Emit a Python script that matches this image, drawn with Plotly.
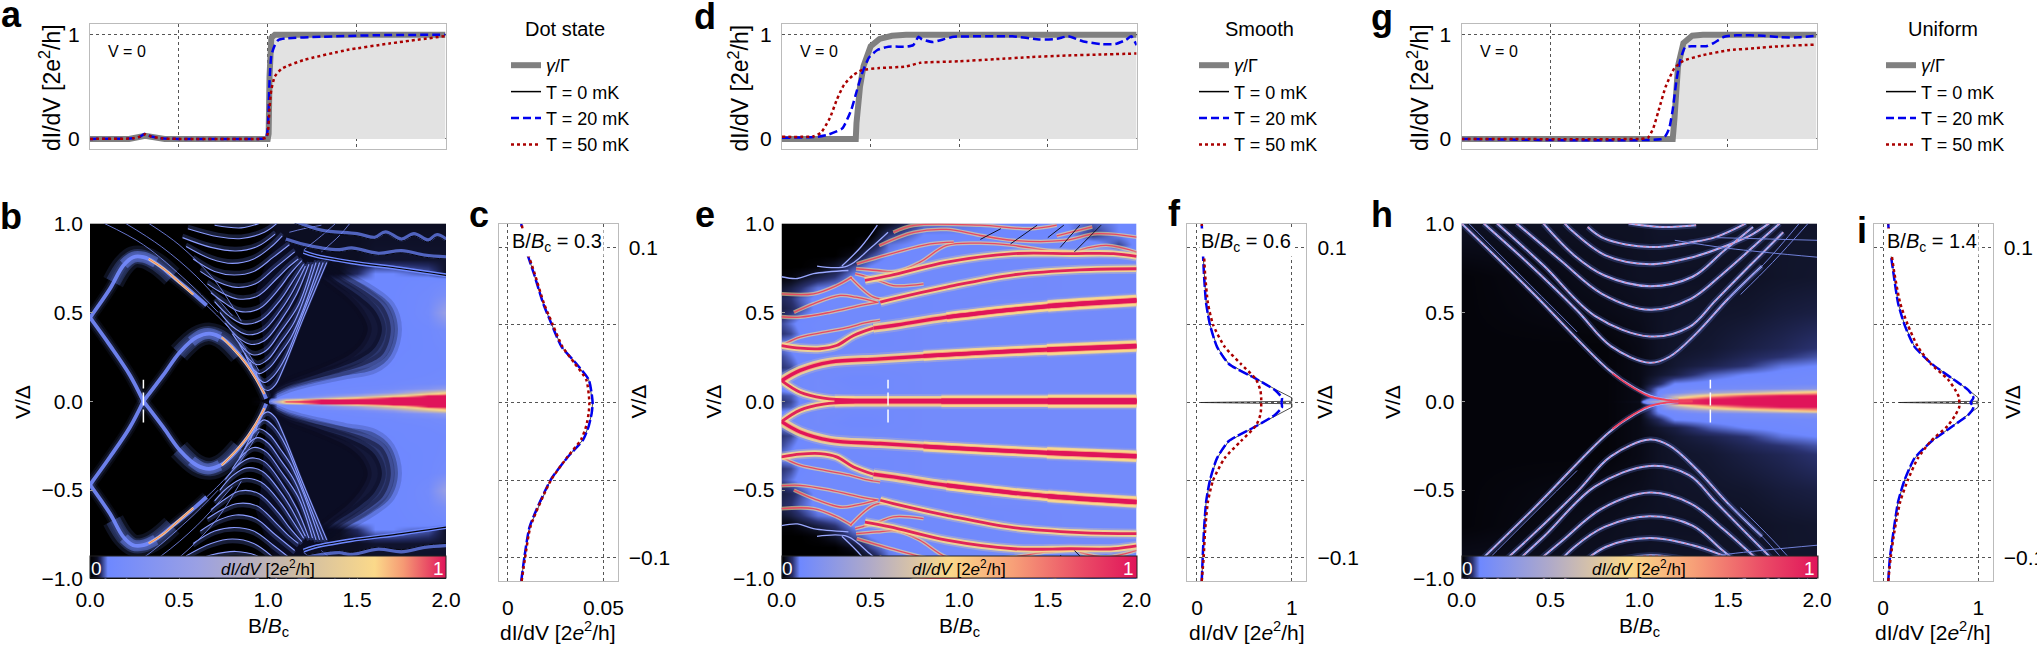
import plotly.graph_objects as go

W, H = 2037, 647

# --- top panels: V = 0 traces (B/Bc, dI/dV)
a_gamma_x = [0, .22, .31, .42, 1.0, 1.005, 1.01, 1.02, 1.04, 2.0]
a_gamma_y = [0, 0, .03, 0, 0, .05, .6, .97, 1.0, 1.0]
a_t20_x = [0, .24, .28, .31, .34, .4, .5, .95, .99, 1.0, 1.01, 1.02, 1.04, 1.06, 1.1, 1.3, 1.6, 2.0]
a_t20_y = [0, .005, .02, .05, .025, .005, 0, 0, .01, .1, .55, .8, .9, .95, .965, .98, .995, 1.0]
a_t50_x = [0, .24, .28, .31, .34, .4, .5, .95, .99, 1.0, 1.01, 1.02, 1.04, 1.08, 1.2, 1.445, 1.69, 2.0]
a_t50_y = [0, .005, .02, .045, .025, .005, 0, 0, .01, .05, .3, .47, .6, .676, .756, .853, .917, .987]

d_gamma_x = [0, .416, .42, .44, .46, .5, .55, .62, .7, 2.0]
d_gamma_y = [0, 0, .15, .5, .7, .89, .96, .99, 1.0, 1.0]
d_t20_x = [0, .2, .26, .34, .39, .42, .45, .49, .538, .6, .7, .74, .77, .79, .85, .92, .97, 1.2, 1.3, 1.45, 1.55, 1.614, 1.7, 1.8, 1.88, 1.94, 1.97, 2.0]
d_t20_y = [.01, .02, .04, .1, .276, .45, .62, .78, .853, .885, .885, .9, .98, .955, .93, .96, .98, .985, .985, .955, .96, .985, .935, .91, .91, .95, .985, .9]
d_t50_x = [0, .18, .22, .27, .31, .35, .4, .45, .55, .7, .78, 1.0, 1.2, 1.4, 1.6, 1.8, 2.0]
d_t50_y = [.02, .025, .06, .2, .38, .52, .61, .66, .68, .695, .73, .745, .765, .785, .8, .81, .82]

g_gamma_x = [0, 1.19, 1.2, 1.21, 1.22, 1.25, 1.3, 1.36, 2.0]
g_gamma_y = [0, 0, .2, .5, .7, .92, .99, 1.0, 1.0]
g_t20_x = [0, 1.13, 1.15, 1.17, 1.19, 1.21, 1.23, 1.26, 1.3, 1.38, 1.42, 1.48, 1.55, 1.7, 1.8, 1.9, 2.0]
g_t20_y = [0, 0, .03, .1, .28, .55, .74, .88, .89, .89, .92, .98, .995, .99, .975, .975, .99]
g_t50_x = [0, 1.0, 1.05, 1.08, 1.11, 1.15, 1.2, 1.25, 1.35, 1.5, 1.65, 1.8, 2.0]
g_t50_y = [0, 0, .01, .1, .27, .5, .68, .75, .8, .85, .87, .89, .905]

# --- line cuts: V/Delta against dI/dV
c_v = [-.115, -.1, -.08, -.05, -.035, -.024, -.015, -.007, 0, .0146, .0254, .036, .05, .064, .083, .1, .115]
c_t0 = [.007, .0086, .0114, .0223, .0314, .0393, .0423, .0438, .0443, .0423, .0355, .028, .023, .0184, .0136, .0091, .007]
c_t20 = [.007, .0086, .0114, .0223, .0314, .0393, .0423, .0438, .0443, .0423, .0355, .028, .023, .0184, .0136, .0091, .007]
c_t50 = [.0072, .009, .0118, .0225, .0312, .0382, .041, .0422, .0426, .041, .0348, .0285, .0235, .0188, .014, .0095, .0072]

cut_v = [-.115, -.1, -.083, -.064, -.05, -.036, -.025, -.015, -.008, -.003, 0, .003, .008, .015, .025, .036, .05, .064, .083, .1, .115]
f_t20 = [.05, .06, .073, .096, .137, .21, .333, .63, .82, .895, .89, .895, .82, .63, .333, .21, .137, .096, .073, .06, .05]
f_t50 = [.05, .07, .085, .115, .17, .29, .46, .62, .667, .676, .676, .676, .667, .62, .46, .29, .17, .115, .085, .07, .05]
f_t0_v = [-.115, -.1, -.083, -.064, -.05, -.036, -.025, -.015, -.008, -.003, -.0008, 0, .0008, .003, .008, .015, .025, .036, .05, .064, .083, .1, .115]
f_t0 = [.05, .06, .073, .096, .137, .21, .333, .63, .84, 1.0, 1.0, .04, 1.0, 1.0, .84, .63, .333, .21, .137, .096, .073, .06, .05]

i_t20 = [.055, .072, .11, .158, .226, .33, .51, .737, .896, .95, .92, .95, .896, .737, .51, .33, .226, .158, .11, .072, .055]
i_t50 = [.055, .08, .12, .18, .26, .365, .5, .68, .76, .8, .8, .8, .76, .68, .5, .365, .26, .18, .12, .08, .055]
i_t0 = [.055, .072, .11, .158, .226, .33, .51, .737, .9, 1.0, 1.0, .17, 1.0, 1.0, .9, .737, .51, .33, .226, .158, .11, .072, .055]

# --- map backgrounds, V >= 0 half (the maps are symmetric in V)
b_x = [0, .9, 1.0, 1.05, 1.1, 1.2, 1.3, 1.4, 1.5, 1.6, 1.7, 1.8, 1.9, 2.0]
b_v = [0, .01, .02, .03, .05, .07, .1, .15, .2, .3, .4, .5, .6, .68, .72, .8, 1.0]
b_z = [
    [0, 0, .02, .5, 1, 1, 1, 1, 1, 1, 1, 1, 1, 1],
    [0, 0, .01, .2, .6, .85, 1, 1, 1, 1, 1, 1, 1, 1],
    [0, 0, .01, .05, .08, .14, .35, .6, .8, .9, 1, 1, 1, 1],
    [0, 0, 0, .05, .06, .08, .12, .2, .3, .5, .7, .85, 1, 1],
    [0, 0, 0, .05, .055, .06, .07, .08, .09, .14, .22, .4, .6, .78],
    [0, 0, 0, .05, .05, .055, .06, .065, .07, .075, .09, .12, .16, .25],
    [0, 0, 0, .05, .05, .05, .052, .055, .06, .06, .065, .07, .075, .09],
    [0, 0, 0, .05, .05, .05, .05, .05, .052, .055, .06, .06, .065, .07],
    [0, 0, 0, .05, .05, .05, .05, .05, .05, .052, .055, .06, .06, .065],
    [0, 0, 0, .05, .05, .05, .05, .05, .05, .05, .052, .055, .06, .07],
    [0, 0, 0, .05, .05, .05, .05, .05, .05, .05, .05, .056, .06, .09],
    [0, 0, 0, .05, .05, .05, .05, .05, .05, .05, .052, .06, .08, .3],
    [0, 0, 0, .05, .05, .05, .05, .05, .05, .05, .052, .06, .07, .12],
    [0, 0, 0, .05, .05, .05, .05, .05, .05, .05, .05, .055, .06, .065],
    [0, 0, 0, .01, .012, .014, .016, .02, .03, .05, .05, .045, .04, .02],
    [0, 0, .01, .02, .02, .02, .02, .02, .02, .022, .022, .022, .022, .022],
    [0, 0, .01, .02, .02, .02, .02, .02, .02, .02, .02, .02, .02, .02],
]

e_x = [0, .05, .1, .2, .3, .4, .5, .6, .8, 1.2, 1.6, 1.75, 1.9, 2.0]
e_v = [0, .03, .06, .12, .19, .25, .32, .38, .44, .52, .58, .64, .7, .76, .82, .88, .94, 1.0]
e_z = [
    [.03, .035, .05, .06, .065, .065, .065, .065, .065, .065, .065, .065, .065, .065],
    [.035, .04, .052, .06, .065, .065, .065, .065, .065, .065, .065, .065, .065, .065],
    [.05, .055, .06, .065, .065, .06, .06, .06, .065, .065, .065, .065, .065, .065],
    [.055, .06, .06, .065, .06, .055, .055, .06, .065, .065, .065, .065, .065, .065],
    [.03, .035, .05, .06, .065, .065, .065, .065, .065, .065, .065, .065, .065, .065],
    [.035, .045, .055, .06, .06, .06, .065, .065, .065, .065, .065, .065, .065, .065],
    [.05, .055, .06, .06, .06, .06, .06, .06, .065, .065, .065, .065, .065, .065],
    [.03, .035, .05, .06, .06, .06, .06, .06, .065, .065, .065, .065, .065, .065],
    [.035, .045, .055, .06, .06, .06, .06, .06, .065, .065, .065, .065, .065, .065],
    [.02, .025, .035, .055, .06, .06, .06, .06, .06, .065, .065, .065, .065, .065],
    [.025, .03, .04, .055, .06, .06, .06, .06, .06, .065, .065, .065, .065, .065],
    [.015, .02, .028, .045, .05, .055, .06, .06, .06, .06, .065, .065, .065, .065],
    [.004, .004, .01, .02, .03, .05, .06, .06, .06, .06, .065, .065, .065, .065],
    [0, 0, 0, .004, .015, .035, .05, .06, .06, .06, .065, .065, .065, .065],
    [0, 0, 0, 0, 0, .01, .035, .05, .06, .06, .06, .06, .06, .06],
    [0, 0, 0, 0, 0, 0, .015, .045, .055, .06, .06, .06, .035, .055],
    [0, 0, 0, 0, 0, 0, 0, .03, .05, .05, .055, .03, .05, .055],
    [0, 0, 0, 0, 0, 0, 0, .01, .04, .05, .05, .04, .05, .05],
]

h_x = [0, .8, 1.0, 1.1, 1.2, 1.4, 1.6, 1.8, 2.0]
h_v = [0, .01, .02, .03, .05, .07, .1, .15, .2, .25, .3, .5, .7, 1.0]
h_z = [
    [.004, .004, .01, .3, .9, 1, 1, 1, 1],
    [.004, .004, .008, .12, .85, 1, 1, 1, 1],
    [.004, .004, .008, .055, .4, .85, 1, 1, 1],
    [.004, .004, .008, .05, .25, .55, .85, 1, 1],
    [.004, .004, .008, .05, .08, .2, .3, .45, .6],
    [.004, .004, .008, .045, .06, .07, .08, .1, .13],
    [.004, .004, .008, .025, .05, .055, .06, .06, .065],
    [.004, .004, .008, .015, .02, .04, .05, .055, .06],
    [.004, .004, .008, .012, .016, .022, .03, .045, .05],
    [.004, .004, .008, .012, .015, .018, .024, .03, .038],
    [.004, .004, .008, .012, .014, .016, .02, .024, .03],
    [.004, .008, .01, .012, .013, .014, .015, .018, .02],
    [.004, .01, .012, .012, .012, .012, .012, .014, .015],
    [.012, .012, .012, .014, .014, .014, .014, .014, .014],
]

# --- outlines of the dark lobe in panel b, outermost first
b_lobes = [
    [(1.0, .02), (1.1, .065), (1.22, .1), (1.43, .144), (1.6, .18), (1.69, .257), (1.73, .407), (1.69, .54), (1.58, .63), (1.43, .715), (1.3, .8), (1.1, .9), (.95, .6)],
    [(1.0, .03), (1.1, .08), (1.22, .115), (1.42, .165), (1.56, .21), (1.65, .27), (1.69, .407), (1.65, .53), (1.55, .615), (1.42, .695), (1.3, .78), (1.1, .9), (.95, .6)],
    [(1.0, .04), (1.1, .095), (1.22, .135), (1.4, .19), (1.52, .24), (1.6, .3), (1.64, .407), (1.6, .51), (1.5, .6), (1.38, .68), (1.28, .76), (1.1, .9), (.95, .6)],
    [(1.0, .05), (1.12, .115), (1.25, .165), (1.38, .22), (1.47, .27), (1.53, .33), (1.56, .41), (1.52, .5), (1.45, .58), (1.35, .66), (1.25, .74), (1.1, .88), (.95, .6)],
]

b_arc_tops = [
    [(.13, .67), (.187, .763), (.243, .81), (.3, .81), (.375, .773), (.46, .7)],
    [(.5, .27), (.6, .36), (.674, .38), (.75, .35), (.84, .26)],
]
b_arc_crowns = [
    [(.19, .77), (.243, .81), (.3, .81), (.37, .78)],
    [(.57, .335), (.63, .375), (.674, .38), (.73, .36)],
]
b_arcs = [
    [(0, .47), (.112, .632), (.187, .763), (.243, .81), (.3, .81), (.375, .773), (.468, .698), (.56, .623), (.655, .539)],
    [(.3, 0), (.41, .145), (.506, .277), (.6, .36), (.674, .38), (.75, .35), (.843, .258), (.936, .127), (.99, .014)],
    [(0, .47), (.112, .314), (.225, .145), (.3, 0)],
]
b_hot = [
    [(.33, .8), (.42, .74), (.5, .67), (.58, .6)],
    [(.74, .36), (.8, .3), (.87, .22), (.93, .13), (.98, .04)],
]
b_fan = [
    [(.93, .17), (.97, .075), (1.0, .06), (1.04, .09), (1.08, .17), (1.2, .47), (1.33, .78)],
    [(.9, .22), (.94, .135), (.98, .105), (1.03, .14), (1.1, .25), (1.2, .5), (1.31, .78)],
    [(.87, .27), (.91, .19), (.95, .155), (1.01, .19), (1.07, .27), (1.13, .36), (1.2, .52), (1.29, .78)],
    [(.84, .32), (.89, .24), (.94, .205), (1.0, .235), (1.07, .33), (1.15, .45), (1.27, .78)],
    [(.8, .38), (.86, .3), (.92, .26), (.99, .285), (1.07, .39), (1.17, .54), (1.25, .77)],
    [(.76, .44), (.83, .36), (.9, .32), (.98, .34), (1.07, .45), (1.16, .6), (1.23, .77)],
    [(.73, .5), (.8, .42), (.88, .375), (.97, .395), (1.07, .51), (1.14, .62), (1.21, .76)],
    [(.7, .56), (.78, .48), (.86, .435), (.96, .455), (1.07, .57), (1.13, .66), (1.2, .77)],
    [(.68, .61), (.76, .55), (.84, .505), (.95, .52), (1.06, .63), (1.12, .71), (1.19, .79)],
    [(.66, .66), (.74, .61), (.83, .575), (.94, .59), (1.05, .69), (1.11, .75), (1.17, .8)],
    [(.62, .73), (.72, .67), (.82, .64), (.93, .66), (1.04, .75), (1.15, .84)],
    [(.58, .8), (.7, .73), (.81, .71), (.92, .73), (1.03, .81), (1.12, .88)],
    [(.54, .87), (.68, .8), (.8, .775), (.92, .8), (1.02, .87), (1.08, .93)],
    [(.52, .92), (.68, .865), (.82, .845), (.94, .87), (1.04, .94)],
    [(.55, .97), (.72, .925), (.85, .915), (.98, .95), (1.05, 1.0)],
    [(.7, .99), (.85, .975), (.95, 1.0)],
]
b_thin = [
    [(.08, 1.0), (.3, .88), (.55, .67), (.72, .5)],
    [(.2, 1.0), (.4, .87), (.6, .7), (.8, .48)],
    [(.33, 1.0), (.5, .88), (.7, .68), (.85, .45)],
    [(.655, .539), (.75, .445), (.85, .33), (.95, .17)],
    [(1.12, .95), (1.2, .97), (1.3, .99)],
    [(1.2, .85), (1.3, .93), (1.38, 1.0)],
    [(1.3, .84), (1.4, .93), (1.46, 1.0)],
]
b_wiggle = [
    [(1.1, .9), (1.2, .87), (1.3, .85), (1.4, .84), (1.47, .85), (1.62, .82), (1.75, .835), (1.88, .81), (2.0, .8)],
    [(1.15, 1.0), (1.3, .95), (1.5, .93), (1.6, .91), (1.66, .94), (1.75, .9), (1.82, .93), (1.9, .895), (1.95, .925), (2.0, .9)],
]
b_edge = [
    [(1.2, .84), (1.26, .82), (1.465, .782), (1.75, .745), (2.0, .708)],
]

e_thick = [
    [(.3, .004), (1.0, .004), (2.0, .004)],
    [(0, .115), (.105, .173), (.274, .22), (.556, .238), (1.12, .272), (1.495, .29), (2.0, .31)],
    [(.518, .411), (.63, .426), (.93, .473), (1.31, .516), (1.68, .548), (2.0, .567)],
]
e_wide1 = [
    [(.9, .004), (2.0, .004)],
    [(.8, .255), (1.12, .272), (1.495, .29), (2.0, .31)],
    [(.93, .473), (1.31, .516), (1.68, .548), (2.0, .567)],
]
e_wide2 = [
    [(1.5, .004), (2.0, .004)],
    [(1.495, .29), (2.0, .31)],
    [(1.5, .535), (1.68, .548), (2.0, .567)],
]
e_mid = [
    [(0, .115), (.105, .05), (.237, .017), (.41, .004)],
    [(0, .313), (.105, .298), (.218, .295), (.31, .313), (.406, .37), (.518, .411)],
    [(.556, .557), (.63, .576), (.93, .642), (1.307, .711), (1.68, .739), (2.0, .745)],
    [(.47, .68), (.612, .707), (.93, .782), (1.307, .83), (1.626, .83), (1.87, .83), (2.0, .814)],
]
e_thin = [
    [(0, .313), (.105, .36), (.25, .39), (.38, .415), (.47, .44), (.556, .454)],
    [(0, .475), (.105, .473), (.274, .5), (.46, .542), (.546, .557)],
    [(.07, .5), (.18, .548), (.33, .595), (.42, .585), (.537, .557)],
    [(.387, .698), (.518, .585), (.612, .572)],
    [(0, .604), (.18, .604), (.31, .65), (.396, .698)],
    [(.415, .717), (.537, .683), (.63, .65), (.8, .66)],
    [(.42, .745), (.537, .735), (.65, .73), (.78, .782), (.93, .876), (1.12, .889), (1.307, .876), (1.495, .848), (1.645, .839)],
    [(.424, .773), (.65, .839), (.838, .885), (.97, .895)],
    [(.55, .875), (.744, .95), (.93, .966), (1.12, .932), (1.307, .904), (1.59, .904), (1.777, .942), (2.0, .923)],
    [(.63, .95), (.744, .989), (1.12, .99), (1.4, .97), (1.55, .99)],
    [(1.68, .85), (1.83, .876), (2.0, .839)],
    [(1.55, .93), (1.75, .98)],
]
e_pale = [
    [(0, .7), (.09, .69), (.18, .717), (.377, .735)],
    [(.2, .76), (.37, .76), (.5, .86), (.6, .95)],
    [(.34, .76), (.45, .87), (.54, .99)],
]
e_dark = [
    [(1.12, .91), (1.235, .97)],
    [(1.29, .885), (1.44, .99)],
    [(1.5, .92), (1.59, .99)],
    [(1.57, .865), (1.68, .99)],
    [(1.65, .84), (1.8, .99)],
]

h_lines = [
    [(.125, 1.0), (.37, .78), (.65, .51), (.84, .31), (1.06, .216), (1.17, .25), (1.32, .38), (1.5, .576), (1.69, .76)],
    [(.2, 1.0), (.465, .76), (.75, .48), (1.06, .364), (1.28, .416), (1.43, .567), (1.62, .76), (1.81, .95)],
    [(.31, 1.0), (.56, .79), (.79, .604), (1.06, .514), (1.29, .576), (1.47, .717), (1.66, .885), (1.79, 1.0)],
    [(.46, 1.0), (.635, .82), (.805, .707), (1.06, .647), (1.3, .7), (1.47, .84), (1.64, .98)],
    [(.58, 1.0), (.62, .96), (.81, .82), (1.06, .77), (1.3, .81), (1.47, .867), (1.62, .93), (1.73, 1.0)],
    [(.71, .98), (.805, .914), (1.06, .867), (1.3, .895), (1.43, .923), (1.6, 1.0)],
    [(.94, 1.0), (1.13, .98), (1.32, .99)],
    [(0, 1.0), (.4, .61), (.824, .18), (.975, .073), (1.09, .022), (1.22, .004)],
]
h_thin = [
    [(.04, 1.0), (.2, .84), (.45, .59), (.65, .39)],
    [(1.2, .905), (1.5, .86), (2.0, .81)],
    [(1.43, .92), (2.0, .905)],
    [(1.5, .58), (1.7, .77), (1.9, 1.0)],
    [(1.57, .6), (1.75, .78), (1.95, 1.0)],
]
h_hot = [
    [(.85, .155), (.95, .085), (1.05, .03), (1.15, .008), (1.3, .002)],
]

bg_blue = "rgba(110,136,255,"
blue = "#0000ee"
red = "#aa0000"
gray = "#808080"
font = "Liberation Sans"

# dI/dV colour bars differ between panel b and panels e, h
scale_b = [
    [0, "#000000"], [.01, "#05050c"], [.02, "#0c0e22"], [.03, "#222a62"], [.05, "#6e88ff"],
    [.3, "#9aa0e4"], [.55, "#c8b8a8"], [.8, "#fbd98a"], [.88, "#f59a74"], [1, "#e0145a"],
]
scale_eh = [
    [0, "#000000"], [.005, "#05050c"], [.015, "#12162e"], [.03, "#2a3270"], [.05, "#6e88ff"],
    [.25, "#b0aac8"], [.47, "#fbd98a"], [.65, "#f7a078"], [.85, "#ea4a66"], [1, "#e0145a"],
]
dotted = dict(griddash="dot", gridcolor="#555", gridwidth=1)

fig = go.Figure()
annotations = []
layout_axes = {}
axis_no = 0


def new_axes(left, right, top, bottom):
    global axis_no
    axis_no += 1
    suffix = "" if axis_no == 1 else str(axis_no)
    return suffix, [left / W, right / W], [1 - bottom / H, 1 - top / H]


def note(x, y, text, size=20, angle=0, color="black", **kw):
    annotations.append(dict(x=x / W, y=1 - y / H, xref="paper", yref="paper", text=text, showarrow=False,
                            font=dict(family=font, size=size, color=color), textangle=angle,
                            xanchor="center", yanchor="middle", **kw))


def top_panel(left, right, label_x, gamma, t20, t50, legend_id, legend_pos, title, title_x):
    s, dx, dy = new_axes(left, right, 24.3, 149.3)
    ax = dict(xaxis="x" + s, yaxis="y" + s)
    layout_axes["xaxis" + s] = dict(domain=dx, range=[0, 2], tickvals=[.5, 1, 1.5], showticklabels=False,
                                    showgrid=True, ticks="", zeroline=False, showline=True, linecolor="#bbb",
                                    mirror=True, anchor="y" + s, **dotted)
    layout_axes["yaxis" + s] = dict(domain=dy, range=[-.1, 1.1], tickvals=[0, 1], showgrid=True, ticks="",
                                    zeroline=False, showline=True, linecolor="#bbb", mirror=True, anchor="x" + s,
                                    ticklabelstandoff=5, tickfont=dict(family=font, size=21), **dotted)
    fig.add_trace(go.Scatter(x=gamma[0], y=gamma[1], mode="none", fill="tozeroy", fillcolor="#e2e2e2",
                             showlegend=False, **ax))
    common = dict(mode="lines", legend=legend_id, cliponaxis=False, **ax)
    # T = 0 follows gamma/Gamma, so it sits hidden under the thick grey line
    fig.add_trace(go.Scatter(x=gamma[0], y=gamma[1], line=dict(color="black", width=1.5), name="T = 0 mK",
                             legendrank=2, **common))
    fig.add_trace(go.Scatter(x=gamma[0], y=gamma[1], line=dict(color=gray, width=6), name="<i>γ</i>/Γ",
                             legendrank=1, **common))
    fig.add_trace(go.Scatter(x=t20[0], y=t20[1], line=dict(color=blue, width=2.5, dash="8px,4px", shape="spline", smoothing=.5),
                             name="T = 20 mK", legendrank=3, **common))
    fig.add_trace(go.Scatter(x=t50[0], y=t50[1], line=dict(color=red, width=2.5, dash="3px,3px", shape="spline", smoothing=.5),
                             name="T = 50 mK", legendrank=4, **common))
    layout_axes[legend_id] = dict(x=legend_pos / W, y=1 - 47 / H, xanchor="left", yanchor="top", itemwidth=30,
                                  bgcolor="rgba(0,0,0,0)", font=dict(family=font, size=18), tracegroupgap=0,
                                  itemclick=False)
    note(left + 37, 52, "V = 0", size=16)
    note(label_x, 88, "dI/dV [2e<sup>2</sup>/h]", size=23, angle=-90)
    note(title_x, 29, title, size=20)


def ridge_trace(ax, runs, width, color, shift=0, dash=None):
    xs, ys = [], []
    for run in runs:
        xs += [p[0] for p in run] + [None]
        ys += [p[1] + shift for p in run] + [None]
        xs += [p[0] for p in run] + [None]
        ys += [-p[1] - shift for p in run] + [None]
    fig.add_trace(go.Scatter(x=xs, y=ys, mode="lines",
                             line=dict(color=color, width=width, shape="spline", smoothing=1, dash=dash),
                             showlegend=False, hoverinfo="skip", **ax))


def blob_trace(ax, outline, alpha):
    for sign in (1, -1):
        fig.add_trace(go.Scatter(x=[p[0] for p in outline], y=[sign * p[1] for p in outline], mode="lines",
                                 fill="toself", fillcolor=f"rgba(10,12,34,{alpha})",
                                 line=dict(width=8, color=f"rgba(10,12,34,{alpha / 2})", shape="spline", smoothing=1),
                                 showlegend=False, hoverinfo="skip", **ax))


def map_panel(left, right, xs, vs, half, scale, label_x, cut_b):
    s, dx, dy = new_axes(left, right, 223.4, 579)
    ax = dict(xaxis="x" + s, yaxis="y" + s)
    tick = dict(tickformat=".1f", ticks="inside", ticklen=3, tickcolor="#999", showgrid=False, zeroline=False,
                showline=False, tickfont=dict(family=font, size=21), ticklabelstandoff=6)
    layout_axes["xaxis" + s] = dict(domain=dx, range=[0, 2], tickvals=[0, .5, 1, 1.5, 2], anchor="y" + s, **tick)
    layout_axes["yaxis" + s] = dict(domain=dy, range=[-1, 1], tickvals=[-1, -.5, 0, .5, 1], anchor="x" + s, **tick)
    z_all = half[::-1][:-1] + half
    v_all = [-v for v in vs[::-1][:-1]] + vs
    fig.add_trace(go.Heatmap(x=xs, y=v_all, z=z_all, zmin=0, zmax=1, colorscale=scale, zsmooth="best", hoverinfo="skip",
                             colorbar=dict(orientation="h", x=left / W, y=1 - 579 / H, xanchor="left", yanchor="bottom",
                                           len=right - left, lenmode="pixels", thickness=22, xpad=0, ypad=0,
                                           showticklabels=False, ticks="", outlinecolor="#222", outlinewidth=1),
                             **ax))
    note(left + 6, 568, "0", size=19, color="white")
    note(right - 8, 568, "1", size=19, color="white")
    note((left + right) / 2, 568, "<i>dI/dV</i> [2<i>e</i><sup>2</sup>/h]", size=17)
    note((left + right) / 2, 627, "B/<i>B</i><sub>c</sub>", size=21)
    note(label_x, 402, "V/Δ", size=21, angle=-90)
    return ax, cut_b


def cut_marker(ax, b):
    fig.add_trace(go.Scatter(x=[b, b], y=[-.12, .12], mode="lines", showlegend=False, hoverinfo="skip",
                             line=dict(color="white", width=1.5, dash="13px,4px"), **ax))


def cut_panel(left, right, xrange, xticks, xtext, vlines, label_x, text):
    s, dx, dy = new_axes(left, right, 224, 581)
    ax = dict(xaxis="x" + s, yaxis="y" + s)
    layout_axes["xaxis" + s] = dict(domain=dx, range=xrange, tickvals=xticks, ticktext=xtext, showgrid=True,
                                    ticks="", zeroline=False, showline=True, linecolor="#bbb", mirror=True,
                                    anchor="y" + s, tickfont=dict(family=font, size=21), ticklabelstandoff=8, **dotted)
    layout_axes["yaxis" + s] = dict(domain=dy, range=[-.115, .115], side="right", tickvals=[-.1, .1],
                                    ticktext=["−0.1", "0.1"], showgrid=True, ticks="", zeroline=False,
                                    minor=dict(tickvals=[-.05, 0, .05], showgrid=True, ticks="", **dotted),
                                    showline=True, linecolor="#bbb", mirror=True, anchor="x" + s,
                                    tickfont=dict(family=font, size=21), ticklabelstandoff=6, **dotted)
    for (v, x), line in zip(vlines, [dict(color="#222", width=.8),
                                     dict(color=blue, width=2.5, dash="10px,3px", shape="spline", smoothing=.6),
                                     dict(color=red, width=2.5, dash="3px,3px", shape="spline", smoothing=.6)]):
        fig.add_trace(go.Scatter(x=x, y=v, mode="lines", line=line, showlegend=False, **ax))
    note((left + right) / 2, 631, "dI/dV [2<i>e</i><sup>2</sup>/h]", size=21)
    note(label_x, 402, "V/Δ", size=21, angle=-90)
    note((left + right) / 2 - 1, 243, "B/<i>B</i><sub>c</sub> = " + text, size=20, bgcolor="white")


# --- Dot state
top_panel(90, 445.5, 50, (a_gamma_x, a_gamma_y), (a_t20_x, a_t20_y), (a_t50_x, a_t50_y), "legend", 506, "Dot state", 565)
ax, b_cut = map_panel(90, 446, b_x, b_v, b_z, scale_b, 22, .3)
for outline, alpha in zip(b_lobes, [.3, .5, .7, .9]):
    blob_trace(ax, outline, alpha)
ridge_trace(ax, b_arc_tops, 22, bg_blue + ".13)")
ridge_trace(ax, b_arc_tops, 15, bg_blue + ".22)")
ridge_trace(ax, b_arc_crowns, 11, bg_blue + ".45)")
ridge_trace(ax, b_arcs, 12, bg_blue + ".07)")
ridge_trace(ax, b_arcs, 8, bg_blue + ".14)")
ridge_trace(ax, b_arcs, 3.8, "rgba(118,140,255,.9)")
ridge_trace(ax, b_hot, 2.2, "#fbd98a")
ridge_trace(ax, b_hot, .9, "#ee6a66")
ridge_trace(ax, b_fan, 4, bg_blue + ".22)", shift=.012)
ridge_trace(ax, b_fan, 1.1, "#8b9cff")
ridge_trace(ax, b_thin, .9, "#7080e0")
ridge_trace(ax, b_wiggle, 4, bg_blue + ".7)", shift=.01)
ridge_trace(ax, b_wiggle, 1, "#05050c")
ridge_trace(ax, b_edge, 4, "#6e88ff")
ridge_trace(ax, b_edge, 1.2, "#05050c")
cut_marker(ax, b_cut)
cut_panel(498.7, 617.5, [-.0048, .0573], [0, .05], ["0", "0.05"],
          [(c_v, c_t0), (c_v, c_t20), (c_v, c_t50)], 637.5, "0.3")

# --- Smooth
top_panel(782, 1136.6, 738.5, (d_gamma_x, d_gamma_y), (d_t20_x, d_t20_y), (d_t50_x, d_t50_y), "legend2", 1194, "Smooth", 1259)
ax, e_cut = map_panel(781.5, 1136.6, e_x, e_v, e_z, scale_eh, 712.5, .6)
ridge_trace(ax, e_thin, 3.8, "rgba(251,217,138,.6)")
ridge_trace(ax, e_thin, 1.3, "#e84a60")
ridge_trace(ax, e_mid, 10, "rgba(220,200,170,.35)")
ridge_trace(ax, e_mid, 6.5, "rgba(251,217,138,.85)")
ridge_trace(ax, e_thick, 13, "rgba(200,190,190,.3)")
ridge_trace(ax, e_thick, 9, "rgba(251,217,138,.8)")
ridge_trace(ax, e_wide1, 14, "rgba(200,190,190,.15)")
ridge_trace(ax, e_wide1, 10, "rgba(251,217,138,.8)")
ridge_trace(ax, e_wide2, 16, "rgba(200,190,190,.15)")
ridge_trace(ax, e_wide2, 11.5, "rgba(251,217,138,.8)")
ridge_trace(ax, e_thick, 5, "#f7a078")
ridge_trace(ax, e_wide1, 5.6, "#f7a078")
ridge_trace(ax, e_wide2, 6.4, "#f7a078")
ridge_trace(ax, e_mid, 2.8, "#e0245a")
ridge_trace(ax, e_thick, 3.4, "#e0145a")
ridge_trace(ax, e_wide1, 3.9, "#e0145a")
ridge_trace(ax, e_wide2, 4.6, "#e0145a")
ridge_trace(ax, e_pale, 1.3, "#9aa8ff")
ridge_trace(ax, e_dark, 1, "#10122a")
cut_marker(ax, e_cut)
cut_panel(1187.4, 1306.2, [-.101, 1.15], [0, 1], ["0", "1"],
          [(f_t0_v, f_t0), (cut_v, f_t20), (cut_v, f_t50)], 1324, "0.6")

# --- Uniform
top_panel(1461.5, 1816.5, 1418, (g_gamma_x, g_gamma_y), (g_t20_x, g_t20_y), (g_t50_x, g_t50_y), "legend3", 1881, "Uniform", 1943)
ax, h_cut = map_panel(1461.5, 1817, h_x, h_v, h_z, scale_eh, 1392, 1.4)
ridge_trace(ax, h_lines, 6, bg_blue + ".22)")
ridge_trace(ax, h_lines, 2, "#a8b4ff")
ridge_trace(ax, h_lines, .9, "#f07a90", dash="3px,3px")
ridge_trace(ax, h_thin, 1, "#7080d8")
ridge_trace(ax, h_hot, 1.8, "#f0425e")
cut_marker(ax, h_cut)
cut_panel(1874, 1992.5, [-.095, 1.15], [0, 1], ["0", "1"],
          [(f_t0_v, i_t0), (cut_v, i_t20), (cut_v, i_t50)], 2012, "1.4")

# panel letters
for letter, x, y in [("a", 11, 15), ("b", 11, 216), ("c", 479, 215), ("d", 705, 16), ("e", 705, 215),
                     ("f", 1174, 213), ("g", 1382, 18), ("h", 1382, 215), ("i", 1862, 230)]:
    note(x, y, "<b>" + letter + "</b>", size=36)

fig.update_layout(width=W, height=H, autosize=False,
                  margin=dict(l=0, r=0, t=0, b=0, autoexpand=False), paper_bgcolor="white",
                  plot_bgcolor="white", annotations=annotations, font=dict(family=font, color="black"), **layout_axes)
fig.write_html("out.html", config={"displayModeBar": False}, post_script="document.body.style.margin='0';")
